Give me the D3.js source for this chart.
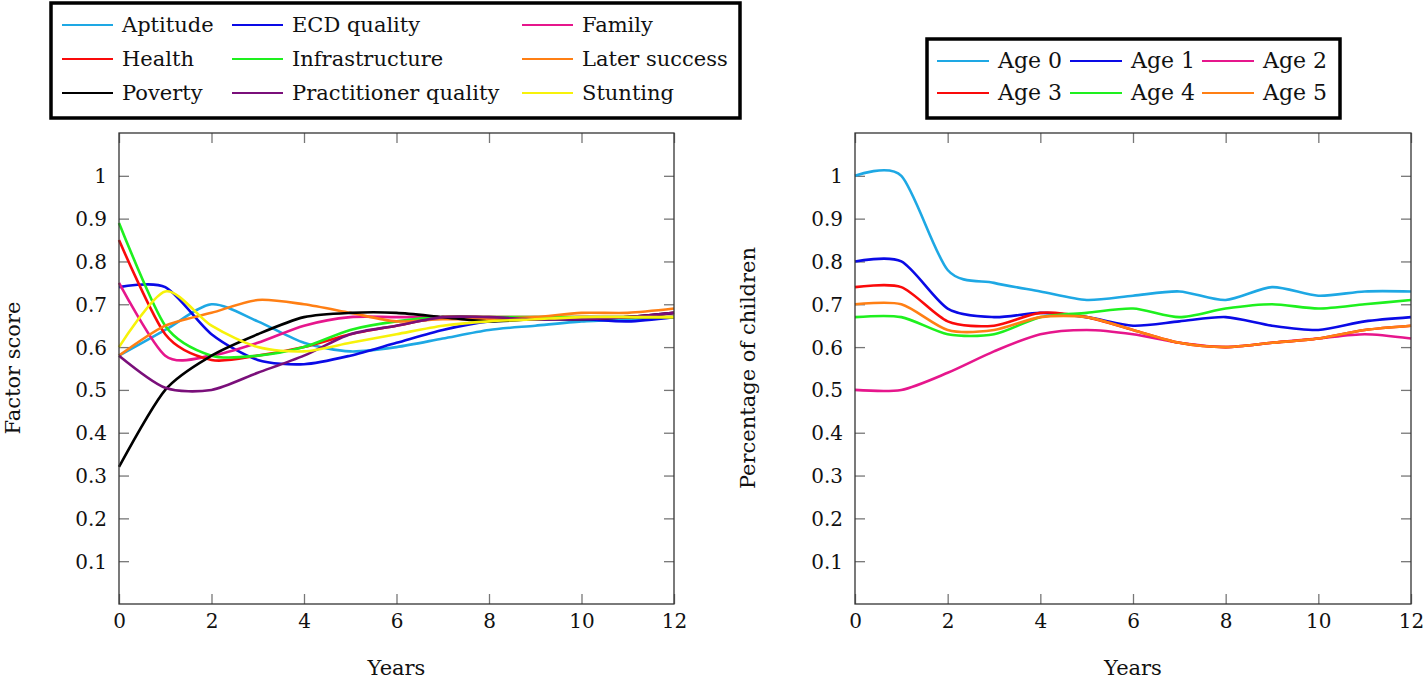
<!DOCTYPE html>
<html><head><meta charset="utf-8">
<script src="https://cdn.jsdelivr.net/npm/d3@7"></script>
<style>
body{margin:0;background:#fff;}
</style></head>
<body><svg id="c" width="1427" height="680"></svg>
<script>
const years = [0,1,2,3,4,5,6,7,8,9,10,11,12];
const yTicks = [0.1,0.2,0.3,0.4,0.5,0.6,0.7,0.8,0.9,1];
const xTicks = [0,2,4,6,8,10,12];

// Left chart: factor scores
const factorNames = ["Aptitude","ECD quality","Family","Health","Infrastructure","Later success","Poverty","Practitioner quality","Stunting"];
const factorColors = ["#1ea8e4","#0a0ae6","#e6168c","#fa0a0a","#1ef01e","#ff7f14","#000000","#7a0f7a","#f7f20a"];
const aptitude      = [0.58,0.64,0.70,0.66,0.61,0.59,0.60,0.62,0.64,0.65,0.66,0.665,0.67];
const ecdQuality    = [0.74,0.74,0.63,0.57,0.56,0.58,0.61,0.64,0.66,0.665,0.665,0.66,0.67];
const family        = [0.75,0.58,0.58,0.61,0.65,0.67,0.67,0.67,0.67,0.665,0.67,0.67,0.68];
const health        = [0.85,0.63,0.57,0.58,0.60,0.63,0.65,0.67,0.67,0.67,0.67,0.67,0.67];
const infrastructure= [0.89,0.65,0.58,0.58,0.60,0.64,0.66,0.67,0.67,0.67,0.67,0.67,0.67];
const laterSuccess  = [0.58,0.65,0.68,0.71,0.70,0.68,0.66,0.665,0.665,0.67,0.68,0.68,0.69];
const poverty       = [0.32,0.50,0.58,0.63,0.67,0.68,0.68,0.67,0.66,0.665,0.665,0.67,0.68];
const practitioner  = [0.58,0.505,0.50,0.54,0.58,0.63,0.65,0.67,0.67,0.665,0.665,0.67,0.68];
const stunting      = [0.60,0.73,0.65,0.60,0.59,0.61,0.63,0.65,0.66,0.665,0.67,0.67,0.67];
const factorSeries = [aptitude,ecdQuality,family,health,infrastructure,laterSuccess,poverty,practitioner,stunting];

// Right chart: percentage of children by age
const ageNames = ["Age 0","Age 1","Age 2","Age 3","Age 4","Age 5"];
const ageColors = ["#1ea8e4","#0a0ae6","#e6168c","#fa0a0a","#1ef01e","#ff7f14"];
const age0 = [1.00,1.00,0.78,0.75,0.73,0.71,0.72,0.73,0.71,0.74,0.72,0.73,0.73];
const age1 = [0.80,0.80,0.69,0.67,0.68,0.67,0.65,0.66,0.67,0.65,0.64,0.66,0.67];
const age2 = [0.50,0.50,0.54,0.59,0.63,0.64,0.63,0.61,0.60,0.61,0.62,0.63,0.62];
const age3 = [0.74,0.74,0.66,0.65,0.68,0.67,0.64,0.61,0.60,0.61,0.62,0.64,0.65];
const age4 = [0.67,0.67,0.63,0.63,0.67,0.68,0.69,0.67,0.69,0.70,0.69,0.70,0.71];
const age5 = [0.70,0.70,0.64,0.64,0.67,0.67,0.64,0.61,0.60,0.61,0.62,0.64,0.65];
const ageSeries = [age0,age1,age2,age3,age4,age5];

const FONT = "DejaVu Serif";
const svg = d3.select("#c");

function drawPanel(cfg){
  const x = d3.scaleLinear().domain([0,12]).range([cfg.left, cfg.right]);
  const y = d3.scaleLinear().domain([0,1.1]).range([604,133]);
  const g = svg.append("g");
  const tickCol = "#777";
  const ax = [
    d3.axisBottom(x).tickValues(xTicks).tickSize(-10).tickFormat(d3.format("d")),
    d3.axisTop(x).tickValues(xTicks).tickSize(-10).tickFormat(""),
    d3.axisLeft(y).tickValues(yTicks).tickSize(-10).tickFormat(d => d===1?"1":d3.format(".1f")(d)),
    d3.axisRight(y).tickValues(yTicks).tickSize(-10).tickFormat("")
  ];
  const pos = [[0,604],[0,133],[cfg.left,0],[cfg.right,0]];
  ax.forEach((a,i)=>{
    const ag = g.append("g").attr("transform",`translate(${pos[i][0]},${pos[i][1]})`).call(a);
    ag.attr("font-family", FONT);
    ag.select(".domain").remove();
    ag.selectAll(".tick line").attr("stroke",tickCol).attr("stroke-width",1.3);
    ag.selectAll(".tick text").attr("font-size",20).attr("fill","#111").attr("font-family",FONT);
    if(i===0) ag.selectAll(".tick text").attr("dy","1.05em");
    if(i===2) ag.selectAll(".tick text").attr("x",-12).attr("dy","0.35em");
  });
  const line = d3.line().x((d,i)=>x(years[i])).y(d=>y(d)).curve(d3.curveCardinal.tension(0.2));
  cfg.series.forEach((s,i)=>{
    g.append("path").attr("d",line(s)).attr("fill","none")
      .attr("stroke",cfg.colors[i]).attr("stroke-width",2.6).attr("stroke-linejoin","round");
  });
  g.append("rect").attr("x",cfg.left).attr("y",133).attr("width",cfg.right-cfg.left).attr("height",604-133)
    .attr("fill","none").attr("stroke","#333").attr("stroke-width",1.3);
  g.append("text").attr("x",(cfg.left+cfg.right)/2).attr("y",675).attr("text-anchor","middle")
    .attr("font-family",FONT).attr("font-size",21).attr("fill","#111").text("Years");
  g.append("text").attr("transform",`translate(${cfg.ylabX},${368}) rotate(-90)`).attr("text-anchor","middle")
    .attr("font-family",FONT).attr("font-size",21).attr("fill","#111").text(cfg.ylab);

  const L = cfg.legend;
  g.append("rect").attr("x",L.x).attr("y",L.y).attr("width",L.w).attr("height",L.h)
    .attr("fill","#fff").attr("stroke","#000").attr("stroke-width",3.5);
  cfg.names.forEach((n,i)=>{
    const col = i % L.cols, row = Math.floor(i / L.cols);
    const lx = L.colX[col], ly = L.rowY[row];
    g.append("line").attr("x1",lx).attr("x2",lx+L.lineW).attr("y1",ly).attr("y2",ly)
      .attr("stroke",cfg.colors[i]).attr("stroke-width",2.2);
    g.append("text").attr("x",lx+L.lineW+L.gap).attr("y",ly).attr("dy","0.33em")
      .attr("font-family",FONT).attr("font-size",L.fs).attr("fill","#111").text(n);
  });
}

drawPanel({left:119,right:674,series:factorSeries,colors:factorColors,names:factorNames,
  ylab:"Factor score",ylabX:20,
  legend:{x:51,y:3,w:689,h:115,cols:3,colX:[62,232,522],rowY:[25,59,93],lineW:51,gap:9,fs:21}});
drawPanel({left:855,right:1411,series:ageSeries,colors:ageColors,names:ageNames,
  ylab:"Percentage of children",ylabX:755,
  legend:{x:927,y:39,w:413,h:79,cols:3,colX:[937,1070,1202],rowY:[61,93],lineW:52,gap:9,fs:22}});
</script></body></html>
